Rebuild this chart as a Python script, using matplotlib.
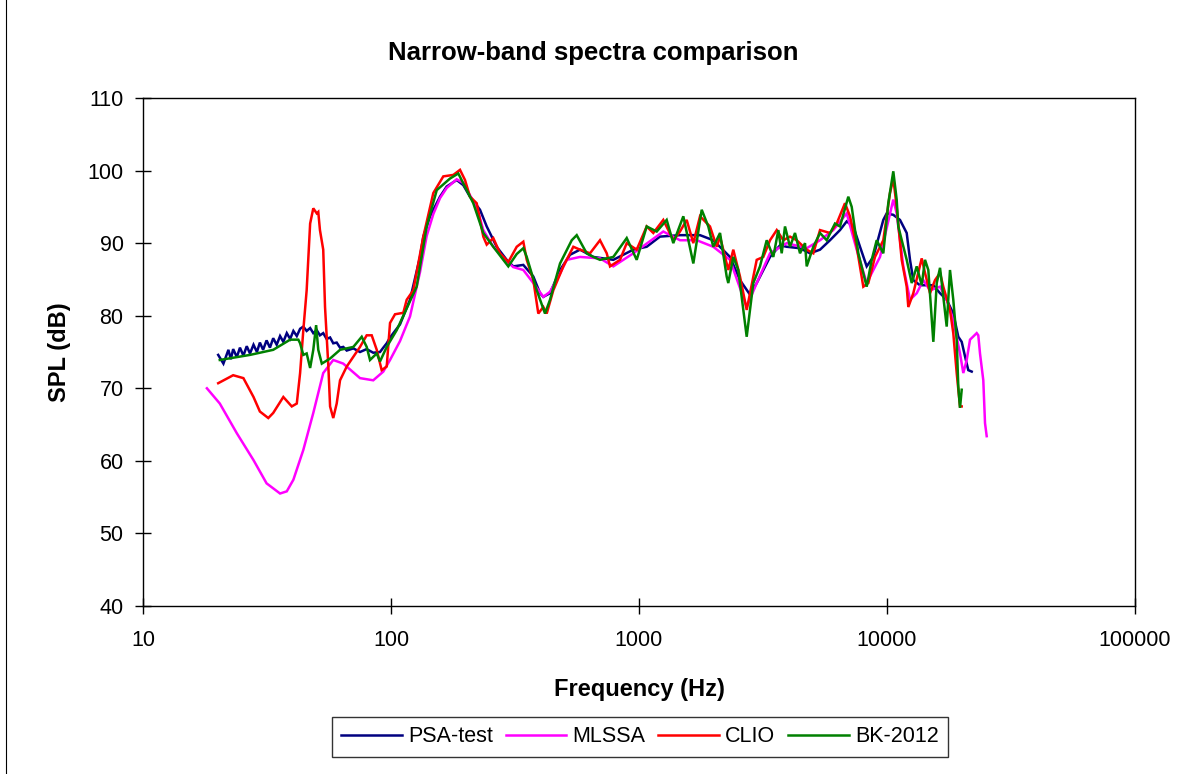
import matplotlib
matplotlib.use("Agg")
import matplotlib.pyplot as plt
from matplotlib.lines import Line2D

plt.rcParams['font.family'] = ['Liberation Sans', 'DejaVu Sans']

# ---------------- data ----------------
psa_f = [20.1, 21.1, 22.1, 22.6, 23.1, 23.9, 24.6, 25.4, 26.2, 27.0, 27.9, 28.8, 29.6, 30.5,
         31.5, 32.5, 33.5, 34.6, 35.7, 36.8, 38.0, 39.2, 40.4, 41.7, 43.0, 44.3, 45.7, 47.2,
         48.6, 50.2, 51.7, 53.3, 55.0, 56.8, 58.5, 60.4, 62.3, 64.2, 66.3, 70.5, 75.0, 79.8,
         84.8, 90.3, 93.1, 96.1, 99.1, 102.2, 108.7, 119.3, 130.9, 135.0, 143.7, 157.6, 167.7,
         184.0, 195.6, 208.2, 228.5, 243.2, 266.8, 292.7, 311.3, 341.6, 374.9, 398.9, 411.3,
         437.7, 480.4, 527.1, 578.4, 654.3, 788.0, 948.4, 1074, 1215, 1463, 1762, 1993, 2328,
         2554, 2803, 2983, 3375, 3703, 3941, 4459, 4893, 5369, 5890, 6463, 6879, 7314, 7783,
         8282, 8806, 9663, 9972, 10602, 11283, 12007, 12381, 12767, 13588, 15375, 16362, 17407,
         18505, 19386, 20008, 20631, 21273, 21956]
psa_db = [74.6, 73.4, 75.3, 74.0, 75.4, 74.3, 75.6, 74.5, 75.8, 74.8, 76.0, 75.0, 76.3, 75.3,
          76.6, 75.6, 76.9, 76.0, 77.2, 76.4, 77.6, 76.8, 77.9, 77.2, 78.2, 78.5, 77.9, 78.3,
          77.6, 78.0, 77.3, 77.6, 76.8, 77.0, 76.2, 76.3, 75.6, 75.7, 75.2, 75.5, 75.0, 75.4,
          74.9, 75.0, 75.6, 76.2, 77.0, 77.6, 78.8, 82.2, 88.1, 90.9, 93.7, 96.4, 97.8,
          98.7, 98.0, 96.4, 94.6, 92.3, 89.5, 87.7, 86.8, 87.0, 85.4, 83.1, 82.6,
          83.1, 86.3, 88.4, 89.1, 88.1, 87.7, 89.1, 89.5, 90.9, 91.1, 91.1, 90.4, 88.1,
          84.9, 82.9, 84.5, 88.1, 89.7, 89.5, 89.3, 88.6, 89.1, 90.4, 91.8, 93.0, 92.3, 89.5,
          86.8, 88.1, 93.2, 94.1, 93.9, 93.2, 91.4, 87.7, 84.9, 84.2, 84.2, 83.1, 82.2,
          80.3, 77.1, 76.4, 74.4, 72.5, 72.3]

mlssa_f = [18.1, 20.4, 23.9, 27.9, 31.5, 35.7, 38.0, 40.4, 44.3, 48.6, 53.3, 58.5, 64.2, 75.0,
           84.8, 93.1, 99.1, 108.7, 119.3, 130.9, 139.3, 148.1, 157.6, 167.7, 184.0, 195.6,
           208.2, 221.6, 235.6, 258.5, 292.7, 311.3, 341.6, 374.9, 411.3, 437.7, 480.4, 511.2,
           578.4, 696.2, 788.0, 948.4, 1253, 1463, 1709, 1993, 2328, 2718, 2983, 3375, 3941,
           4745, 5369, 6074, 6879, 7548, 8282, 9371, 10602, 10940, 11635, 12381, 13178, 14011,
           14911, 16362, 17407, 18505, 19697, 20310, 20961, 21614, 22999, 23341, 23714, 24452,
           24844, 25235]
mlssa_db = [70.0, 67.9, 63.8, 60.1, 56.9, 55.5, 55.8, 57.4, 61.5, 66.6, 72.1, 73.9, 73.4, 71.4,
            71.1, 72.3, 73.9, 76.5, 79.9, 86.0, 91.0, 94.0, 96.2, 97.6, 98.8, 98.3,
            96.6, 95.0, 91.8, 89.5, 87.5, 86.7, 86.3, 84.5, 82.6, 83.3, 85.8, 87.7,
            88.1, 87.9, 86.8, 88.6, 91.6, 90.4, 90.4, 89.5, 87.7, 81.2, 84.5, 88.6, 90.0,
            89.3, 90.4, 91.8, 94.1, 89.1, 84.5, 88.1, 96.0, 94.1, 86.8, 82.2, 83.1, 84.9,
            83.5, 84.0, 82.2, 79.4, 74.8, 72.1, 73.9, 76.7, 77.6, 77.3, 74.8, 71.1,
            65.2, 63.4]

clio_f = [20.1, 23.1, 25.4, 27.9, 29.6, 32.0, 33.5, 36.8, 39.8, 41.7, 43.0, 44.3, 45.7, 47.2,
          48.6, 50.2, 50.9, 51.7, 53.3, 54.2, 55.9, 56.8, 58.5, 60.4, 62.3, 66.3, 75.0, 79.8,
          83.6, 87.6, 91.7, 96.1, 99.1, 103.8, 112.1, 115.7, 123.0, 135.0, 148.1, 162.5, 178.3,
          189.8, 198.8, 208.2, 221.6, 235.6, 243.2, 258.5, 275.2, 297.2, 321.3, 341.6, 352.6,
          374.9, 392.6, 411.3, 424.5, 451.3, 495.3, 543.5, 578.4, 634.5, 696.2, 741.2, 764.2,
          838.4, 892.3, 978.8, 1074, 1142, 1253, 1375, 1463, 1557, 1656, 1762, 1933, 2058,
          2122, 2291, 2400, 2554, 2718, 2803, 2983, 3171, 3375, 3592, 3818, 4063, 4324, 4745,
          5045, 5369, 5890, 6268, 6770, 7093, 7548, 8025, 8407, 8945, 9663, 10281, 10602,
          10940, 11464, 12007, 12188, 12767, 13803, 14233, 14911, 15618, 16362, 16866, 17947,
          18505, 19098, 19697, 20008]
clio_db = [70.7, 71.8, 71.4, 68.8, 66.8, 65.9, 66.6, 68.8, 67.5, 67.9, 72.1, 78.0, 83.5, 92.7,
           94.8, 94.1, 94.3, 91.8, 89.1, 81.2, 73.0, 67.5, 65.9, 67.9, 71.1, 73.0, 75.7, 77.3,
           77.3, 75.3, 72.5, 73.0, 79.0, 80.2, 80.4, 82.2, 83.5, 90.9, 96.9, 99.2, 99.4,
           100.1, 98.7, 96.4, 95.5, 90.9, 89.8, 90.7, 88.6, 87.4, 89.5, 90.2, 87.7,
           84.9, 80.3, 81.2, 80.3, 83.5, 86.8, 89.5, 89.1, 88.6, 90.4, 88.6, 86.8,
           87.7, 90.0, 89.1, 92.3, 91.4, 93.2, 90.4, 91.6, 93.2, 90.0, 93.7, 92.3, 89.5,
           90.9, 86.3, 89.1, 85.4, 80.8, 83.1, 87.7, 88.1, 90.4, 91.8, 90.4, 90.9, 90.4, 89.1,
           88.6, 91.8, 91.4, 92.7, 95.5, 93.7, 89.5, 84.0, 84.5, 88.1, 90.4, 96.9, 98.9,
           95.0, 87.7, 84.0, 81.2, 83.1, 87.9, 85.9, 83.1, 84.9, 85.9, 84.0, 80.8,
           77.6, 72.1, 67.5, 67.5]

bk_f = [20.4, 27.0, 33.5, 39.2, 42.3, 43.0, 44.3, 45.7, 47.2, 48.6, 49.9, 50.9, 52.6, 56.8,
        62.3, 70.5, 76.2, 79.8, 82.3, 87.6, 90.3, 96.1, 105.4, 126.9, 139.3, 152.9, 172.9,
        186.8, 202.0, 214.7, 235.6, 258.5, 297.2, 321.3, 341.6, 352.6, 387.0, 417.8, 437.7,
        480.4, 535.5, 560.9, 615.3, 654.3, 696.2, 788.0, 892.3, 978.8, 1074, 1179, 1293, 1375,
        1509, 1656, 1790, 1903, 1993, 2122, 2257, 2291, 2400, 2514, 2718, 2890, 3075, 3273,
        3480, 3646, 3762, 3879, 4063, 4256, 4459, 4671, 4745, 5045, 5369, 5713, 6170, 6463,
        6982, 7206, 7662, 8282, 8676, 9088, 9663, 10120, 10602, 10940, 11105, 12007, 12579,
        13178, 13803, 14233, 14676, 15375, 15868, 16362, 17407, 17947, 18505, 19098, 19386,
        19697, 20008]
bk_db = [73.9, 74.6, 75.3, 76.7, 76.7, 76.2, 74.6, 74.8, 72.8, 75.3, 78.7, 75.3, 73.4, 74.1,
         75.3, 75.7, 77.1, 75.7, 73.9, 74.8, 73.7, 75.7, 78.0, 84.0, 92.3, 97.3, 98.9,
         99.6, 97.3, 95.5, 91.4, 89.5, 86.8, 88.5, 89.3, 88.1, 83.5, 80.3, 82.2,
         87.2, 90.4, 91.1, 88.6, 88.1, 87.7, 88.1, 90.7, 87.7, 92.3, 91.6, 93.2, 90.0,
         93.7, 87.2, 94.6, 92.3, 89.5, 91.4, 85.4, 84.5, 88.1, 86.3, 77.1, 84.5, 86.8, 90.4,
         88.1, 91.8, 88.6, 92.3, 89.5, 91.4, 88.6, 90.0, 86.8, 89.5, 91.4, 90.4, 92.7, 92.3,
         96.4, 95.0, 88.6, 84.0, 87.7, 90.4, 88.6, 95.5, 99.9, 96.0, 92.3, 87.7, 84.5,
         86.8, 84.2, 87.7, 86.3, 76.4, 84.5, 86.6, 78.5, 86.3, 82.2, 76.7, 70.2,
         67.3, 69.8]

series_names = ["PSA-test", "MLSSA", "CLIO", "BK-2012"]
series_colors = ["#000080", "#FF00FF", "#FF0000", "#008000"]

x_ticks = [10, 100, 1000, 10000, 100000]
y_ticks = [40, 50, 60, 70, 80, 90, 100, 110]

# ---------------- figure ----------------
fig = plt.figure(figsize=(11.86, 7.74), dpi=100)
ax = fig.add_axes([143/1186, 1-606/774, (1135-143)/1186, (606-98)/774])

data = [(psa_f, psa_db), (mlssa_f, mlssa_db), (clio_f, clio_db), (bk_f, bk_db)]
for (f, db), name, col in zip(data, series_names, series_colors):
    ax.plot(f, db, color=col, lw=1.8, label=name, solid_joinstyle='miter')

ax.set_xscale('log')
ax.set_xlim(10, 100000)
ax.set_ylim(40, 110)
ax.set_xticks(x_ticks)
ax.set_xticklabels([str(t) for t in x_ticks])
ax.xaxis.set_minor_locator(matplotlib.ticker.NullLocator())
ax.set_yticks(y_ticks)
ax.set_yticklabels([str(t) for t in y_ticks])
ax.tick_params(axis='both', direction='inout', length=12, width=1.0, labelsize=15.5,
               colors='black')
ax.tick_params(axis='x', pad=11)
ax.tick_params(axis='y', pad=8)
for s in ax.spines.values():
    s.set_linewidth(1.0)
    s.set_color('black')

ax.set_xlabel("Frequency (Hz)", fontsize=17, fontweight='bold', labelpad=20)
ax.set_ylabel("SPL (dB)", fontsize=17, fontweight='bold', labelpad=12)
fig.text(0.5, 1-53/774, "Narrow-band spectra comparison", ha='center', va='center',
         fontsize=18.5, fontweight='bold')

handles = [Line2D([0], [0], color=c, lw=1.8) for c in series_colors]
leg = fig.legend(handles, series_names, loc='center', bbox_to_anchor=(640/1186, 1-737/774),
                 ncol=4, fontsize=15.5, frameon=True, fancybox=False, shadow=False,
                 handlelength=2.8, handletextpad=0.3, columnspacing=0.6,
                 borderpad=0.45, edgecolor='black')
leg.get_frame().set_linewidth(1.0)

# figure border on the left edge (chart area frame)
fig.add_artist(Line2D([5.5/1186, 5.5/1186], [0, 1], transform=fig.transFigure,
                      color='black', lw=0.8))

fig.savefig("out.png", dpi=100)
